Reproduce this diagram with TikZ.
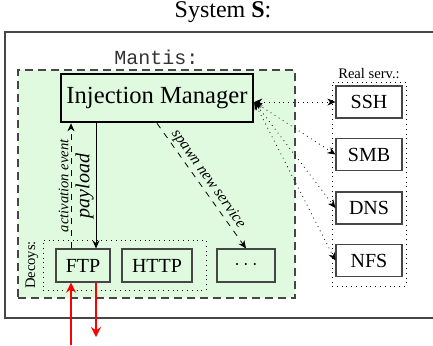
\documentclass[tikz,border=0pt]{standalone}
\usepackage{fontspec}
\setmainfont{Liberation Serif}
\setmonofont{Liberation Mono}
\usetikzlibrary{arrows.meta}

\definecolor{mantisgreen}{RGB}{224,250,224}
\definecolor{boxgray}{RGB}{70,70,70}

\tikzset{
  service/.style={draw=boxgray, line width=0.6pt, minimum width=33pt, minimum height=16pt, inner sep=0pt, font=\fontsize{10}{12}\selectfont},
  decoy/.style={service, minimum height=16.5pt},
  wire/.style={-{Stealth[length=4pt,width=3.5pt]}},
  biwire/.style={dotted, {Stealth[length=4pt,width=3.5pt]}-{Stealth[length=4pt,width=3.5pt]}},
  redwire/.style={red, line width=1.3pt, -{Stealth[length=5pt,width=5pt]}},
}

\begin{document}
\begin{tikzpicture}[x=0.5pt, y=-0.5pt]
  \useasboundingbox (0,0) rectangle (433,345);

  % Systeme S (bord droit hors cadre)
  \draw[boxgray, line width=0.9pt] (440,32) -- (5,32) -- (5,318) -- (440,318);
  \node[font=\fontsize{12}{14}\selectfont] (system) at (223,12) {System \textbf{S}:};

  % Mantis
  \node[draw=boxgray, fill=mantisgreen, line width=1pt, dash pattern=on 4pt off 2.5pt,
        minimum width=138.5pt, minimum height=114pt, inner sep=0pt,
        label={[font=\ttfamily\fontsize{10}{12}\selectfont, text=black!80, inner sep=2pt]above:Mantis:}] (mantis) at (156.5,184) {};
  \node[draw, line width=1.3pt, minimum width=96pt, minimum height=24pt, inner sep=0pt,
        font=\fontsize{12.3}{14}\selectfont] (im) at (157,98) {Injection Manager};

  % Leurres
  \node[draw, dotted, minimum width=81.5pt, minimum height=25pt, inner sep=0pt] (decoys) at (124.5,265) {};
  \node[rotate=90, anchor=south, inner sep=2pt, font=\fontsize{7.3}{9}\selectfont] (decoyslabel) at (decoys.west) {Decoys:};
  \node[decoy, minimum width=27pt] (ftp) at (83,265.5) {FTP};
  \node[decoy, minimum width=35pt] (http) at (157,265.5) {HTTP};
  \node[decoy, minimum width=29pt] (more) at (246,265.5) {$\cdots$};

  % Services reels
  \node[draw, dotted, minimum width=37pt, minimum height=102pt, inner sep=0pt,
        label={[font=\fontsize{7.3}{9}\selectfont, inner sep=1.5pt]above:Real serv.:}] (real) at (369,184) {};
  \foreach \name/\lbl/\y in {ssh/SSH/102, smb/SMB/154.5, dns/DNS/208, nfs/NFS/260.5} {
      \node[service] (\name) at (369,\y) {\lbl};
      \draw[biwire] ([yshift=-2pt]im.east) -- (\name.west);
    }

  % Fleches internes
  \draw[wire, dashed] ([xshift=-6pt]ftp.north) -- ([xshift=-6pt]ftp.north |- im.south)
      node[midway, sloped, above, inner sep=1pt, font=\itshape\fontsize{7.3}{9}\selectfont] {activation event}
      node[midway, sloped, below, inner sep=2pt, font=\itshape\fontsize{10}{12}\selectfont] {payload};
  \draw[wire] ([xshift=6.5pt]ftp.north |- im.south) -- ([xshift=6.5pt]ftp.north);
  \draw[wire, dashed] (im.south) -- (more.north)
      node[pos=0.49, sloped, above, inner sep=1pt, font=\itshape\fontsize{7.8}{9}\selectfont] {spawn new service};

  % Trafic externe
  \coordinate (ftpin) at (71,345);
  \coordinate (ftpout) at (96,337);
  \draw[redwire] (ftpin) -- ([xshift=-6pt]ftp.south);
  \draw[redwire] ([xshift=6.5pt]ftp.south) -- (ftpout);
\end{tikzpicture}
\end{document}
